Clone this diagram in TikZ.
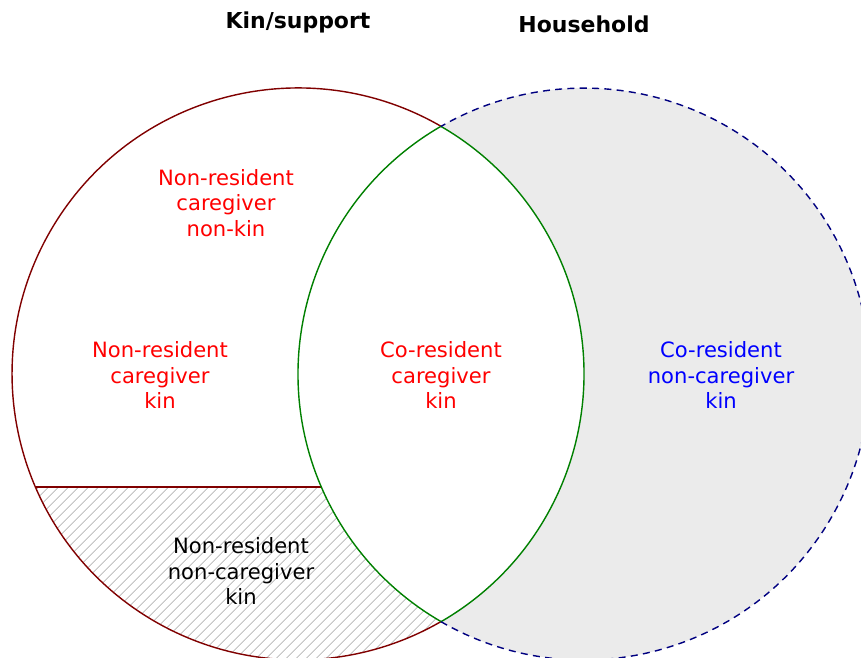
\documentclass[tikz,border=0pt]{standalone}
\usepackage{fontspec}
\setmainfont{DejaVu Sans}
\usepackage{tikz}
\usetikzlibrary{patterns.meta}
\definecolor{kinred}{RGB}{128,0,0}
\definecolor{lensgreen}{RGB}{0,128,0}
\definecolor{hhnavy}{RGB}{0,0,128}
\definecolor{hhgray}{RGB}{235,235,235}
\definecolor{hatchgray}{RGB}{200,200,200}
\tikzstyle{region}=[align=center, inner sep=0mm, font=\fontsize{12}{14.5}\selectfont]
\tikzstyle{title}=[inner sep=0mm, font=\fontsize{12.5}{15}\selectfont\bfseries]
\tikzstyle{rim}=[line width=0.8pt]

\begin{document}
\begin{tikzpicture}[x=0.02cm, y=0.02cm]
    \useasboundingbox (0,0) rectangle (861,658);
    \coordinate (kc) at (298,284);
    \coordinate (hc) at (584,284);
    \coordinate (top) at (441,531.7);
    \coordinate (bot) at (441,36.3);
    \coordinate (cutl) at (35.3,171);
    \coordinate (cutr) at (321.3,171);
    % hatched part of the kin circle
    \begin{scope}
      \clip (kc) circle (5.72cm);
      \fill[pattern={Lines[angle=45,distance=4pt,line width=0.6pt]}, pattern color=hatchgray] (0,0) rectangle (861,171);
    \end{scope}
    % household circle, lens left white
    \fill[hhgray] (hc) circle (5.72cm);
    \begin{scope}
      \clip (kc) circle (5.72cm);
      \fill[white] (hc) circle (5.72cm);
    \end{scope}
    % outlines
    \draw[rim, kinred] (cutl) -- (cutr);
    \draw[rim, kinred] (top) arc[start angle=60, end angle=300, radius=5.72cm];
    \draw[rim, lensgreen] (top) arc[start angle=120, end angle=240, radius=5.72cm];
    \draw[rim, lensgreen] (bot) arc[start angle=-60, end angle=60, radius=5.72cm];
    \draw[rim, hhnavy, dash pattern=on 4pt off 3pt] (bot) arc[start angle=240, end angle=480, radius=5.72cm];
    % titles
    \node[title] (kintitle) at (298,636) {Kin/support};
    \node[title] (hhtitle) at (584,634) {Household};
    % regions
    \node[region, red] (nonkin) at (226,455) {Non-resident\\caregiver\\non-kin};
    \node[region, red] (nrkin) at (160,283) {Non-resident\\caregiver\\kin};
    \node[region, red] (crkin) at (441,283) {Co-resident\\caregiver\\kin};
    \node[region, blue] (crnon) at (721,283) {Co-resident\\non-caregiver\\kin};
    \node[region] (nrnon) at (241,87) {Non-resident\\non-caregiver\\kin};
\end{tikzpicture}
\end{document}
